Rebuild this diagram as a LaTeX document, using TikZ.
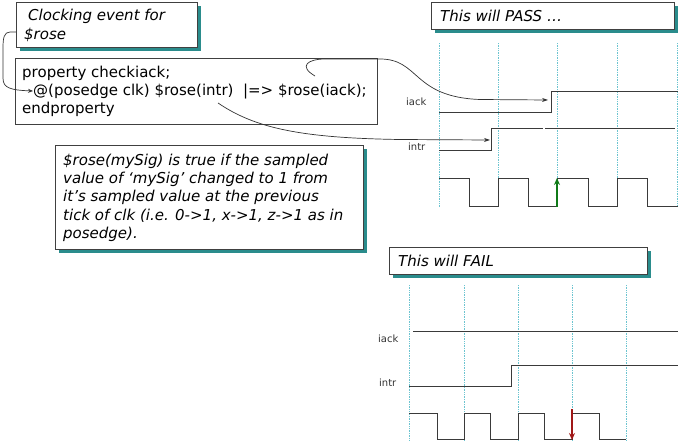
\documentclass[tikz,border=0pt]{standalone}
\usepackage{fontspec}
\setmainfont{DejaVu Sans}
\usetikzlibrary{shadows,arrows.meta}
\definecolor{shadowteal}{HTML}{2A8C8C}
\definecolor{gridblue}{HTML}{6CC4D0}
\definecolor{waveg}{HTML}{3A3A3A}
\definecolor{passgreen}{HTML}{107A18}
\definecolor{failred}{HTML}{A01818}
\tikzset{
  x=1pt, y=-1pt,
  shbox/.style={draw=black!75, line width=0.8pt, fill=white, anchor=north west, inner sep=0pt,
     drop shadow={shadow xshift=4pt, shadow yshift=-4pt, fill=shadowteal, opacity=1}},
  plainbox/.style={draw=black!75, line width=0.8pt, fill=white, anchor=north west, inner sep=0pt},
  boxtext/.style={anchor=base west, inner sep=0pt, font=\fontsize{15}{18}\selectfont\itshape},
  codetext/.style={anchor=base west, inner sep=0pt, font=\fontsize{15}{18}\selectfont},
  siglabel/.style={anchor=west, inner sep=0pt, font=\fontsize{10}{12}\selectfont, text=black!80},
  grid/.style={gridblue, densely dotted, line width=0.7pt},
  wave/.style={waveg, line width=0.9pt},
  conn/.style={black!80, line width=0.7pt, -{Stealth[length=6pt,width=4pt]}},
}
\begin{document}
\begin{tikzpicture}
\useasboundingbox (0,0) rectangle (680,442);
% boxes
\node[shbox, minimum width=181pt, minimum height=45pt] (clkbox) at (16,2) {};
\node[boxtext] (clk1) at (28,20) {Clocking event for};
\node[boxtext] (clk2) at (24,39) {\$rose};
\node[plainbox, minimum width=362pt, minimum height=66pt] (codebox) at (15,58) {};
\node[codetext] (code1) at (22,77) {property checkiack;};
\node[codetext] (code2) at (33,95) {@(posedge clk) \$rose(intr)\ \ |=> \$rose(iack);};
\node[codetext] (code3) at (22,113) {endproperty};
\node[shbox, minimum width=308pt, minimum height=104pt] (notebox) at (55,145) {};
\node[boxtext] (n1) at (63,165) {\$rose(mySig) is true if the sampled};
\node[boxtext] (n2) at (63,183.3) {value of ‘mySig’ changed to 1 from};
\node[boxtext] (n3) at (63,201.6) {it’s sampled value at the previous};
\node[boxtext] (n4) at (63,220) {tick of clk (i.e. 0->1, x->1, z->1 as in};
\node[boxtext] (n5) at (63,238.5) {posedge).};
\node[shbox, minimum width=243pt, minimum height=27pt] (passbox) at (431,2) {};
\node[boxtext] (passtext) at (440,21) {This will PASS …};
\node[shbox, minimum width=258pt, minimum height=27pt] (failbox) at (389,247) {};
\node[boxtext] (failtext) at (398,266) {This will FAIL};

% PASS timing
\foreach \x in {439,498.5,557,617,677} \draw[grid] (\x,43) -- (\x,207);
\node[siglabel] (iackP) at (406,102) {iack};
\node[siglabel] (intrP) at (408,147) {intr};
\draw[wave] (439,112) -- (551,112) -- (551,91) -- (678,91);
\draw[wave] (439,150) -- (491,150) -- (491,128) -- (543,128);
\draw[wave] (545,128) -- (675,128);
\draw[wave] (439,178) -- (469,178) -- (469,206) -- (498.5,206) -- (498.5,178) -- (528,178) -- (528,206)
   -- (557,206) -- (557,178) -- (588,178) -- (588,206) -- (617,206) -- (617,178) -- (647,178) -- (647,206) -- (678,206);
\coordinate (gbot) at (557,207);
\coordinate (gtop) at (557,178);
\draw[passgreen, line width=1.8pt, -{Stealth[length=7pt,width=6pt]}] (gbot) -- (gtop);

% FAIL timing
\foreach \x in {409,464,518,572,626} \draw[grid] (\x,285) -- (\x,440);
\node[siglabel] (iackF) at (378,339) {iack};
\node[siglabel] (intrF) at (379,383) {intr};
\draw[wave] (413,331) -- (678,331);
\draw[wave] (409,386) -- (511,386) -- (511,365) -- (678,365);
\draw[wave] (409,413) -- (437,413) -- (437,439) -- (464,439) -- (464,413) -- (490,413) -- (490,439)
   -- (518,439) -- (518,413) -- (544,413) -- (544,439) -- (572,439) -- (572,413) -- (599,413) -- (599,439) -- (626,439);
\coordinate (rtop) at (572,409);
\coordinate (rbot) at (572,440);
\draw[failred, line width=1.8pt, -{Stealth[length=7pt,width=6pt]}] (rtop) -- (rbot);

% connectors
\coordinate (iackend) at (548,100);
\coordinate (intrend) at (490,140);
\coordinate (iackstart) at (315,76);
\coordinate (intrstart) at (218,103);
\draw[conn] (iackstart) .. controls (298,66) and (308,59) .. (325,59) -- (380,59)
   .. controls (420,59) and (412,97) .. (480,99.5) -- (iackend);
\draw[conn] (intrstart) .. controls (255,128) and (300,138) .. (400,139.5) -- (intrend);
\draw[conn, -{Stealth[length=5pt,width=4pt]}] (clkbox.west |- 0,32) -- (10,32) .. controls (4,32) and (3,38) .. (3,48) -- (3,78)
   .. controls (3,88) and (10,90) .. (code2.west);
\end{tikzpicture}
\end{document}
